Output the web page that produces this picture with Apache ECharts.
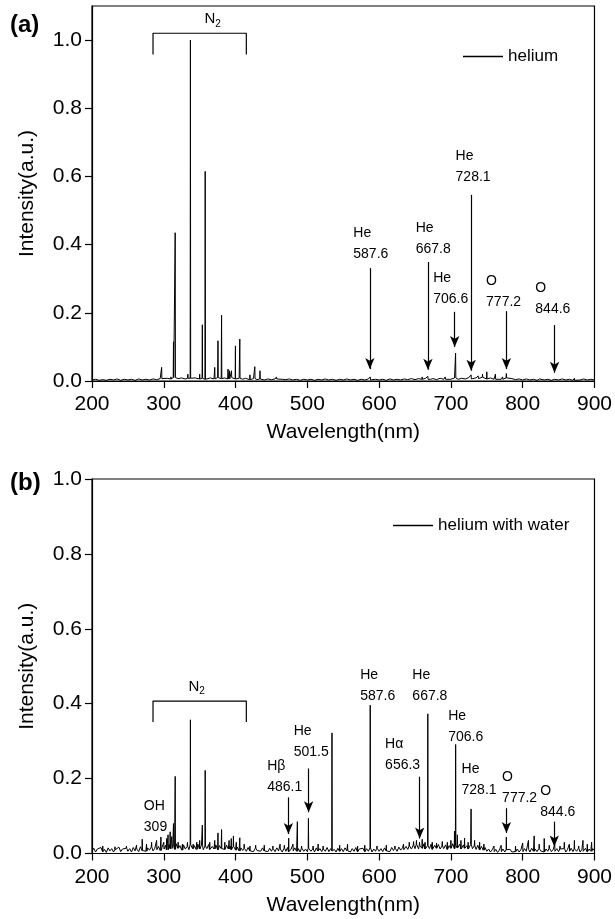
<!DOCTYPE html>
<html>
<head>
<meta charset="utf-8">
<script src="https://cdn.jsdelivr.net/npm/echarts@6/dist/echarts.min.js"></script>
<style>
html,body{margin:0;padding:0;background:#fff;}
#chart{width:615px;height:919px;}
</style>
</head>
<body>
<div id="chart"></div>
<script>
// ---------- data ----------
const xTicks = [200, 300, 400, 500, 600, 700, 800, 900];
const yTicks = [0, 0.2, 0.4, 0.6, 0.8, 1.0];
const baseStart = 200;

// (a) helium: baseline samples every 5 nm from 200 to 900
const heliumStep = 5;
const heliumBase = [
 0.003,0.005,0.002,0.004,0.002,0.005,0.003,0.006,0.002,0.005,0.003,0.005,0.002,0.006,0.003,0.005,0.003,0.006,0.004,0.007,
 0.005,0.008,0.006,0.010,0.007,0.009,0.006,0.008,0.005,0.009,0.006,0.008,0.005,0.009,0.006,0.010,0.007,0.009,0.006,0.010,
 0.006,0.008,0.005,0.008,0.004,0.007,0.004,0.006,0.003,0.006,0.004,0.006,0.003,0.005,0.004,0.006,0.003,0.005,0.002,0.005,
 0.003,0.005,0.002,0.005,0.003,0.006,0.003,0.005,0.002,0.005,0.003,0.006,0.003,0.005,0.002,0.005,0.003,0.006,0.003,0.005,
 0.003,0.005,0.002,0.006,0.003,0.005,0.003,0.006,0.004,0.007,0.004,0.007,0.005,0.008,0.005,0.007,0.004,0.008,0.005,0.007,
 0.005,0.009,0.005,0.008,0.006,0.010,0.006,0.009,0.007,0.011,0.006,0.009,0.005,0.008,0.005,0.009,0.004,0.007,0.004,0.006,
 0.003,0.006,0.003,0.005,0.002,0.006,0.003,0.005,0.002,0.005,0.003,0.006,0.003,0.005,0.002,0.005,0.003,0.006,0.003,0.005,0.003
];
// (a) helium: emission lines [wavelength nm, intensity]
const heliumPeaks = [
 [297,0.04],[305,0.008],[310,0.012],[313.5,0.115],[315.9,0.435],[326,0.008],[330,0.01],[333.5,0.02],
 [337.1,1.0],[344,0.01],[350,0.02],[353.7,0.165],[357.7,0.615],[367,0.012],[371,0.04],[375.5,0.118],
 [380.5,0.193],[385,0.012],[389.5,0.035],[391.5,0.03],[394.3,0.03],[399.8,0.103],[405.9,0.123],[414,0.01],
 [420,0.018],[426.8,0.042],[434,0.03],[457,0.012],[480,0.008],[530,0.008],[587.6,0.012],[612,0.006],
 [640,0.008],[656,0.01],[660,0.012],[667.8,0.014],[672,0.01],[692,0.012],[706.5,0.082],[716,0.012],
 [728.1,0.018],[738,0.015],[744,0.02],[750,0.027],[757,0.012],[762,0.02],[772,0.012],[777.2,0.022],
 [824,0.008],[844.6,0.01],[872,0.008]
];

// (b) helium with water: baseline samples every 2.5 nm from 200 to 900
const waterStep = 2.5;
const waterBase = [
 0.006,0.014,0.004,0.012,0.008,0.016,0.005,0.011,0.003,0.015,0.007,0.013,0.004,0.010,0.006,0.017,0.005,0.012,0.008,0.014,
 0.006,0.013,0.004,0.016,0.007,0.012,0.005,0.018,0.008,0.013,0.006,0.015,0.009,0.017,0.007,0.014,0.010,0.019,0.008,0.016,
 0.012,0.022,0.010,0.024,0.013,0.020,0.011,0.026,0.014,0.021,0.009,0.023,0.012,0.019,0.010,0.024,0.013,0.021,0.011,0.025,
 0.012,0.022,0.010,0.020,0.013,0.024,0.011,0.019,0.012,0.023,0.010,0.021,0.013,0.018,0.011,0.022,0.012,0.020,0.010,0.019,
 0.009,0.017,0.007,0.015,0.008,0.014,0.006,0.016,0.007,0.012,0.005,0.014,0.008,0.013,0.006,0.015,0.007,0.012,0.005,0.014,
 0.006,0.013,0.005,0.015,0.007,0.012,0.004,0.014,0.006,0.016,0.005,0.012,0.007,0.015,0.006,0.013,0.004,0.014,0.006,0.012,
 0.005,0.014,0.006,0.012,0.004,0.015,0.007,0.013,0.005,0.012,0.006,0.016,0.005,0.013,0.007,0.011,0.004,0.014,0.006,0.013,
 0.005,0.015,0.007,0.012,0.004,0.013,0.006,0.016,0.005,0.012,0.007,0.014,0.005,0.013,0.006,0.015,0.004,0.012,0.006,0.014,
 0.006,0.013,0.005,0.015,0.007,0.012,0.005,0.016,0.008,0.014,0.006,0.017,0.009,0.015,0.010,0.019,0.011,0.020,0.012,0.022,
 0.013,0.024,0.012,0.022,0.014,0.026,0.012,0.021,0.013,0.025,0.011,0.022,0.014,0.024,0.012,0.020,0.013,0.023,0.011,0.021,
 0.014,0.026,0.013,0.022,0.015,0.025,0.012,0.023,0.014,0.021,0.012,0.024,0.013,0.020,0.011,0.022,0.010,0.019,0.009,0.016,
 0.006,0.012,0.004,0.010,0.005,0.011,0.003,0.009,0.005,0.012,0.004,0.010,0.006,0.011,0.004,0.009,0.005,0.012,0.004,0.010,
 0.005,0.013,0.006,0.011,0.004,0.014,0.006,0.012,0.005,0.013,0.007,0.011,0.004,0.012,0.006,0.014,0.005,0.011,0.006,0.013,
 0.005,0.012,0.007,0.013,0.004,0.011,0.006,0.014,0.005,0.012,0.006,0.013,0.004,0.011,0.006,0.014,0.005,0.012,0.006,0.013,
 0.008
];
// (b) helium with water: emission lines [wavelength nm, intensity]
const waterPeaks = [
 [215,0.02],[232,0.018],[248,0.02],[262,0.022],[270,0.038],[276,0.025],[283,0.03],[290,0.035],[296,0.044],
 [300,0.03],[304,0.04],[306,0.05],[308.9,0.058],[311,0.045],[313.5,0.08],[315.9,0.206],[320,0.03],[326,0.025],
 [333,0.03],[337.1,0.357],[341,0.025],[346,0.03],[350,0.035],[353.7,0.076],[357.7,0.222],[364,0.03],[371,0.035],
 [375.5,0.055],[380.5,0.064],[385,0.03],[391,0.035],[394,0.04],[397,0.047],[401,0.03],[405.9,0.042],[412,0.025],
 [420,0.02],[428,0.022],[440,0.022],[452,0.02],[462,0.025],[468,0.022],[474,0.041],[480,0.025],[486.1,0.085],
 [492,0.02],[501.5,0.094],[508,0.02],[515,0.025],[522,0.02],[534.3,0.322],[545,0.022],[556,0.025],[570,0.02],
 [580,0.022],[587.6,0.396],[597,0.02],[610,0.022],[622,0.02],[634,0.025],[642,0.03],[648,0.032],[652,0.035],
 [656.3,0.03],[660,0.038],[664,0.03],[667.8,0.373],[674,0.03],[680,0.028],[688,0.032],[695,0.03],[700,0.035],
 [705,0.06],[706.6,0.291],[709,0.05],[714,0.035],[719,0.041],[724,0.03],[728.1,0.119],[733,0.035],[740,0.03],
 [746,0.025],[760,0.02],[770,0.022],[777.2,0.044],[790,0.02],[800,0.028],[808,0.035],[816,0.047],[823,0.025],
 [830,0.04],[837,0.022],[844.6,0.025],[852,0.02],[858,0.03],[865,0.025],[872,0.035],[878,0.02],[884,0.035],
 [890,0.025],[896,0.03]
];

// annotations: [text, x (nm, left edge), y (intensity, middle)]
const topLabels = [
 ['He\n587.6', 564, 0.402], ['He\n667.8', 651, 0.418], ['He\n706.6', 675.4, 0.272],
 ['He\n728.1', 706.5, 0.630], ['O\n777.2', 749, 0.263], ['O\n844.6', 817.6, 0.242]
];
// arrows: [x nm, from intensity, to intensity]
const topArrows = [
 [587.1, 0.331, 0.035], [668, 0.349, 0.033], [705.3, 0.203, 0.1],
 [728.2, 0.546, 0.03], [777.3, 0.205, 0.035], [844.4, 0.164, 0.024]
];
const topBracket = [[285, 0.958], [285, 1.02], [415, 1.02], [415, 0.958]];
const topN2 = [368, 1.061];

const botLabels = [
 ['OH\n309', 272.2, 0.098], ['Hβ\n486.1', 444, 0.205], ['He\n501.5', 481, 0.299],
 ['He\n587.6', 573.6, 0.449], ['He\n667.8', 646.3, 0.447], ['Hα\n656.3', 608.3, 0.265],
 ['He\n706.6', 696.3, 0.338], ['He\n728.1', 714.8, 0.198], ['O\n777.2', 771.3, 0.176],
 ['O\n844.6', 824.5, 0.138]
];
const botArrows = [
 [473.6, 0.150, 0.052], [501.8, 0.227, 0.11], [656.5, 0.205, 0.04],
 [777.3, 0.121, 0.055], [844, 0.085, 0.019]
];
const botBracket = [[285, 0.351], [285, 0.407], [415, 0.407], [415, 0.351]];
const botN2 = [345.8, 0.444];

// ---------- build ----------
function buildSpectrum(base, step, peaks) {
  const pts = base.map((v, i) => [baseStart + i * step, v]);
  peaks.forEach(([x, h]) => {
    const b = base[Math.round((x - baseStart) / step)];
    pts.push([x - 0.35, b], [x, h], [x + 0.35, b]);
  });
  pts.sort((a, b) => a[0] - b[0]);
  return pts;
}

const FONT = 'Liberation Sans, Arial, sans-serif';
const black = '#000';

function xAxis(gi) {
  return {
    type: 'value', gridIndex: gi, min: 200, max: 900, interval: 100,
    axisLine: { show: true, onZero: false, lineStyle: { color: black, width: 1.2 } },
    axisTick: { show: true, inside: false, length: 7, lineStyle: { color: black, width: 1.2 }, customValues: xTicks },
    axisLabel: { fontSize: 21, color: black, margin: 13, fontFamily: FONT, customValues: xTicks },
    splitLine: { show: false },
    name: 'Wavelength(nm)', nameLocation: 'middle', nameGap: 41,
    nameTextStyle: { fontSize: 21, color: black, fontFamily: FONT }
  };
}
function yAxis(gi, max) {
  return {
    type: 'value', gridIndex: gi, min: 0, max: max, interval: 0.2,
    axisLine: { show: true, onZero: false, lineStyle: { color: black, width: 1.2 } },
    axisTick: { show: true, inside: false, length: 7, lineStyle: { color: black, width: 1.2 }, customValues: yTicks },
    axisLabel: { fontSize: 21, color: black, margin: 10, fontFamily: FONT, customValues: yTicks,
      formatter: v => v.toFixed(1) },
    splitLine: { show: false },
    name: 'Intensity(a.u.)', nameLocation: 'middle', nameGap: 54,
    nameTextStyle: { fontSize: 21, color: black, fontFamily: FONT }
  };
}

function annotSeries(gi, labels, arrows, n2) {
  return [{
    type: 'scatter', xAxisIndex: gi, yAxisIndex: gi, symbolSize: 0, silent: true,
    itemStyle: { opacity: 1, color: black },
    data: labels.map(l => [l[1], l[2], l[0]]),
    label: { show: true, position: 'right', distance: 0, formatter: p => p.data[2],
      fontSize: 14, lineHeight: 21, color: black, fontFamily: FONT, align: 'left' },
    markLine: {
      silent: true, animation: false,
      symbol: ['none', 'arrow'], symbolSize: [7, 11],
      label: { show: false },
      lineStyle: { color: black, width: 1.2, type: 'solid', opacity: 1 },
      itemStyle: { color: black },
      emphasis: { disabled: true },
      data: arrows.map(a => [{ coord: [a[0], a[1]] }, { coord: [a[0], a[2]] }])
    }
  }, {
    type: 'scatter', xAxisIndex: gi, yAxisIndex: gi, symbolSize: 0, silent: true,
    itemStyle: { opacity: 1, color: black },
    data: [n2],
    label: { show: true, position: 'inside', formatter: '{n|N}{s|2}',
      rich: { n: { fontSize: 15, color: black, fontFamily: FONT },
              s: { fontSize: 10, color: black, fontFamily: FONT, padding: [9, 0, 0, 0] } } }
  }];
}

function bracketSeries(gi, pts) {
  return { type: 'line', xAxisIndex: gi, yAxisIndex: gi, data: pts, symbol: 'none', silent: true,
    lineStyle: { color: black, width: 1.2 } };
}

const option = {
  animation: false,
  backgroundColor: '#fff',
  textStyle: { fontFamily: FONT },
  title: [
    { text: '(a)', left: 5, top: 8, textStyle: { fontSize: 24, fontWeight: 'bold', color: black, fontFamily: FONT } },
    { text: '(b)', left: 5, top: 466, textStyle: { fontSize: 24, fontWeight: 'bold', color: black, fontFamily: FONT } }
  ],
  grid: [
    { left: 92, right: 19, top: 6, height: 375, show: true, borderColor: black, borderWidth: 1.2, backgroundColor: 'transparent' },
    { left: 92, right: 19, top: 479, height: 374.5, show: true, borderColor: black, borderWidth: 1.2, backgroundColor: 'transparent' }
  ],
  legend: [
    { data: [{ name: 'helium', icon: 'rect' }], left: 458, top: 43, itemWidth: 40, itemHeight: 1.3, itemGap: 5,
      itemStyle: { color: black }, textStyle: { fontSize: 17, color: black, fontFamily: FONT }, selectedMode: false },
    { data: [{ name: 'helium with water', icon: 'rect' }], left: 388, top: 512, itemWidth: 40, itemHeight: 1.3, itemGap: 5,
      itemStyle: { color: black }, textStyle: { fontSize: 17, color: black, fontFamily: FONT }, selectedMode: false }
  ],
  xAxis: [xAxis(0), xAxis(1)],
  yAxis: [yAxis(0, 1.1), yAxis(1, 1.0)],
  series: [
    { name: 'helium', type: 'line', xAxisIndex: 0, yAxisIndex: 0, data: buildSpectrum(heliumBase, heliumStep, heliumPeaks),
      symbol: 'none', lineStyle: { color: black, width: 1 }, itemStyle: { color: black } },
    { name: 'helium with water', type: 'line', xAxisIndex: 1, yAxisIndex: 1, data: buildSpectrum(waterBase, waterStep, waterPeaks),
      symbol: 'none', lineStyle: { color: black, width: 1 }, itemStyle: { color: black } },
    bracketSeries(0, topBracket),
    bracketSeries(1, botBracket),
    ...annotSeries(0, topLabels, topArrows, topN2),
    ...annotSeries(1, botLabels, botArrows, botN2)
  ]
};

const chart = echarts.init(document.getElementById('chart'), null, { renderer: 'canvas' });
chart.setOption(option);
</script>
</body>
</html>
